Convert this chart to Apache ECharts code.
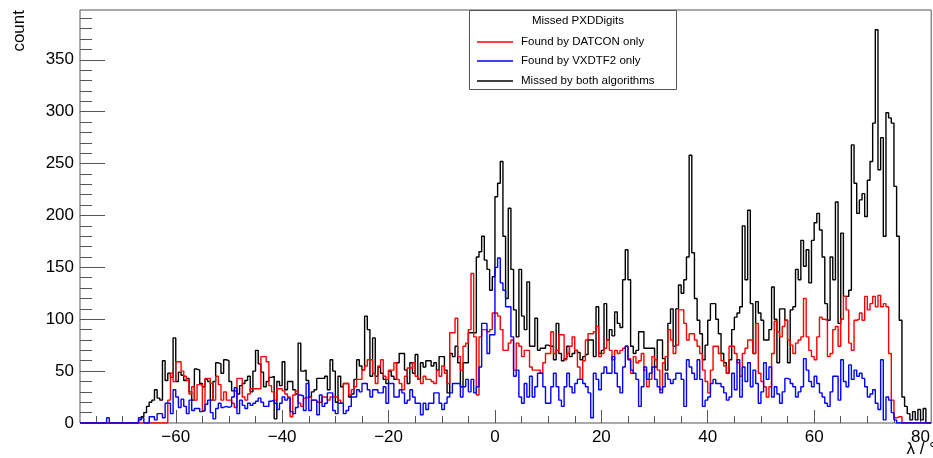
<!DOCTYPE html>
<html>
<head>
<meta charset="utf-8">
<script src="https://cdn.jsdelivr.net/npm/echarts@6/dist/echarts.min.js"></script>
<style>
html,body{margin:0;padding:0;background:#fff;}
#chart{width:933px;height:458px;}
</style>
</head>
<body>
<div id="chart"></div>
<script>
// ---- data: histogram of lambda (degrees), bins of 0.5 deg starting at -75 ----
const binStart = -75;
const binWidth = 0.5;
const xRange = [-78, 82];
const yRange = [0, 398];
const xMajorTicks = [-60, -40, -20, 0, 20, 40, 60, 80];
const xMinorTicks = [-75, -70, -65, -55, -50, -45, -35, -30, -25, -15, -10, -5, 5, 10, 15, 25, 30, 35, 45, 50, 55, 65, 70, 75];
const yMajorTicks = [0, 50, 100, 150, 200, 250, 300, 350];
const yMinorTicks = [10, 20, 30, 40, 60, 70, 80, 90, 110, 120, 130, 140, 160, 170, 180, 190, 210, 220, 230, 240, 260, 270, 280, 290, 310, 320, 330, 340, 360, 370, 380, 390];
const legendTitle = 'Missed PXDDigits';
const seriesNames = ['Found by DATCON only', 'Found by VXDTF2 only', 'Missed by both algorithms'];

const missedByBoth = [
  0,0,0,0,0,0,0,0,0,0,
  0,0,0,0,0,0,3,6,10,16,
  20,22,32,24,22,60,41,48,44,82,
  40,49,46,41,43,30,22,52,51,38,
  35,42,40,22,40,58,57,48,61,60,
  40,31,31,28,36,38,41,45,30,50,
  70,57,49,35,40,44,45,4,40,36,
  59,32,40,40,32,28,77,50,51,41,
  25,30,32,43,43,43,45,32,61,50,
  20,45,35,38,38,25,28,42,61,55,
  51,103,90,45,82,45,54,48,42,38,
  50,45,42,58,67,67,51,38,58,48,
  66,42,58,54,60,60,55,58,51,64,
  64,51,29,67,64,74,58,35,58,58,
  87,87,87,160,165,180,157,148,128,141,
  218,231,252,180,120,207,148,109,83,148,
  103,90,136,74,74,101,70,72,72,75,
  74,74,61,96,67,60,62,74,64,67,
  70,68,61,64,66,80,80,64,112,67,
  70,115,80,90,84,107,96,92,138,167,
  138,74,67,70,88,88,72,72,72,72,
  54,80,80,62,51,96,110,74,110,133,
  125,138,160,258,164,120,99,86,61,75,
  99,115,115,100,86,67,58,48,61,90,
  102,106,112,190,138,205,115,67,117,106,
  99,80,80,90,131,100,58,110,110,99,
  58,109,112,148,138,176,151,167,135,176,
  193,202,186,160,115,99,160,138,213,96,
  183,122,122,128,268,231,202,215,221,199,
  234,252,289,379,244,275,180,299,294,289,
  228,180,99,25,16,9,3,11,3,13,
  3,14
];

const foundByDatcon = [
  0,0,0,0,0,0,0,0,0,0,
  0,0,0,0,0,0,0,0,0,0,
  0,0,0,0,0,0,0,22,48,40,
  59,59,50,45,41,28,35,22,37,37,
  12,43,43,38,22,45,37,22,30,22,
  22,19,15,43,43,25,22,28,33,33,
  33,33,64,64,59,36,30,22,33,33,
  31,28,25,6,27,31,19,16,24,25,
  25,22,22,20,20,25,25,22,25,25,
  25,22,19,38,38,27,32,35,42,42,
  51,55,61,61,48,38,55,61,45,42,
  51,51,58,42,38,32,45,53,53,58,
  45,42,38,45,42,42,40,38,51,45,
  55,48,38,87,87,101,64,51,74,77,
  90,144,83,27,83,90,90,88,90,106,
  106,103,90,70,70,77,80,51,77,74,
  64,70,70,54,51,51,51,48,58,67,
  67,88,67,70,85,85,61,67,74,83,
  70,54,42,60,80,86,86,88,93,64,
  67,72,80,70,61,70,67,70,72,74,
  62,48,64,58,60,67,51,35,42,64,
  61,51,32,58,64,90,80,67,75,109,
  109,96,80,86,86,80,74,67,51,40,
  29,51,74,74,67,60,55,48,74,74,
  67,58,45,67,72,80,80,67,96,48,
  40,35,25,35,67,98,88,83,93,99,
  80,75,67,77,80,83,120,83,70,64,
  61,83,102,100,99,64,67,90,93,74,
  100,122,109,77,70,99,100,106,99,122,
  109,115,122,112,123,112,115,112,67,22,
  5,6,6,0,0,0,0,0,0,0,
  0,0
];

const foundByVxdtf2 = [
  0,0,0,0,5,0,0,0,0,0,
  0,0,0,0,0,0,5,5,0,0,
  6,6,3,9,9,5,19,19,9,32,
  25,15,23,16,9,22,12,14,14,11,
  12,18,22,10,4,14,19,15,16,15,
  16,25,34,9,22,17,14,19,17,19,
  21,24,20,16,16,21,22,19,13,19,
  25,22,24,11,9,15,27,26,12,38,
  12,22,22,8,27,16,19,29,29,12,
  9,19,19,9,12,16,25,25,32,30,
  38,38,32,25,32,32,29,29,35,19,
  38,38,25,25,32,29,19,22,32,25,
  19,19,8,19,13,19,19,29,29,19,
  13,19,25,29,38,38,38,25,35,42,
  30,42,29,35,54,96,96,67,85,85,
  150,159,135,128,112,112,83,45,51,25,
  19,38,25,45,25,35,48,48,35,19,
  19,35,48,35,22,16,35,48,35,29,
  38,42,42,38,35,29,5,48,42,32,
  48,54,48,48,64,48,35,29,54,74,
  61,51,48,42,16,35,54,42,48,54,
  42,35,29,35,48,42,38,42,48,48,
  42,16,61,54,48,42,61,42,16,22,
  25,38,42,38,38,35,29,22,25,48,
  32,61,25,54,40,58,35,51,38,19,
  30,58,42,54,25,35,28,19,30,43,
  42,38,35,25,30,35,62,51,40,35,
  45,38,29,25,19,16,30,45,45,22,
  61,40,35,56,42,51,45,48,43,35,
  25,28,32,19,13,61,3,25,22,10,
  3,0,0,0,0,0,0,0,0,0,
  0,0
];

// ---- build histogram outlines (left bin edge + value, stepped) ----
function histPoints(values) {
  const pts = [[xRange[0], 0]];
  values.forEach(function (v, i) { pts.push([binStart + i * binWidth, v]); });
  const end = binStart + values.length * binWidth;
  pts.push([end, values[values.length - 1]]);
  pts.push([end, 0]);
  pts.push([xRange[1], 0]);
  return pts;
}

const FONT = '"Liberation Sans", Arial, Helvetica, sans-serif';
const AX = '#555';
const colors = { datcon: '#ff0000', vxd: '#0000ff', both: '#000000' };

const chart = echarts.init(document.getElementById('chart'), null, { renderer: 'canvas' });

function lineSeries(name, values, color, z) {
  return {
    name: name, type: 'line', xAxisIndex: 0, yAxisIndex: 0,
    data: histPoints(values), step: 'end', symbol: 'none', showSymbol: false,
    lineStyle: { color: color, width: 1.4 }, itemStyle: { color: color },
    silent: true, animation: false, z: z
  };
}

const option = {
  animation: false,
  backgroundColor: '#ffffff',
  grid: { left: 80, top: 10, width: 856, height: 413, show: true, borderColor: AX, borderWidth: 1, backgroundColor: 'transparent' },
  xAxis: [
    {
      type: 'value', min: xRange[0], max: xRange[1], position: 'bottom',
      axisLine: { show: false, onZero: false }, splitLine: { show: false },
      axisTick: { show: true, inside: true, length: 13, customValues: xMajorTicks, lineStyle: { color: AX, width: 1 } },
      axisLabel: {
        show: true, customValues: xMajorTicks, margin: 6, fontSize: 17, fontFamily: FONT, color: '#000',
        formatter: function (v) { return String(v).replace('-', '\u2212'); }
      }
    },
    {
      type: 'value', min: xRange[0], max: xRange[1], position: 'bottom', offset: 0,
      axisLine: { show: false, onZero: false }, splitLine: { show: false },
      axisTick: { show: true, inside: true, length: 7, customValues: xMinorTicks, lineStyle: { color: AX, width: 1 } },
      axisLabel: { show: false }
    }
  ],
  yAxis: [
    {
      type: 'value', min: yRange[0], max: yRange[1], position: 'left',
      axisLine: { show: false, onZero: false }, splitLine: { show: false },
      axisTick: { show: true, inside: true, length: 25, customValues: yMajorTicks, lineStyle: { color: AX, width: 1 } },
      axisLabel: { show: true, customValues: yMajorTicks, margin: 6, fontSize: 17, fontFamily: FONT, color: '#000' }
    },
    {
      type: 'value', min: yRange[0], max: yRange[1], position: 'left', offset: 0,
      axisLine: { show: false, onZero: false }, splitLine: { show: false },
      axisTick: { show: true, inside: true, length: 12, customValues: yMinorTicks, lineStyle: { color: AX, width: 1 } },
      axisLabel: { show: false }
    }
  ],
  series: [
    lineSeries(seriesNames[2], missedByBoth, colors.both, 2),
    lineSeries(seriesNames[0], foundByDatcon, colors.datcon, 3),
    lineSeries(seriesNames[1], foundByVxdtf2, colors.vxd, 4)
  ],
  graphic: [
    { type: 'text', x: 19, y: 10, rotation: Math.PI / 2, z: 50,
      style: { text: 'count', font: '17px ' + FONT, fill: '#000', align: 'right', verticalAlign: 'middle', textAlign: 'right', textVerticalAlign: 'middle' } },
    { type: 'text', x: 936, y: 449, z: 50,
      style: { text: 'λ / °', font: '17px ' + FONT, fill: '#000', align: 'right', verticalAlign: 'middle', textAlign: 'right', textVerticalAlign: 'middle' } },
    { type: 'rect', z: 100, shape: { x: 469.5, y: 10.5, width: 207, height: 79 },
      style: { fill: '#fff', stroke: AX, lineWidth: 1 } },
    { type: 'text', x: 578, y: 21, z: 101,
      style: { text: legendTitle, font: '11.5px ' + FONT, fill: '#000', align: 'center', verticalAlign: 'middle', textAlign: 'center', textVerticalAlign: 'middle' } },
    { type: 'line', z: 101, shape: { x1: 477, y1: 42, x2: 513, y2: 42 }, style: { stroke: colors.datcon, lineWidth: 1.4 } },
    { type: 'text', x: 521, y: 42, z: 101,
      style: { text: seriesNames[0], font: '11.5px ' + FONT, fill: '#000', align: 'left', verticalAlign: 'middle', textAlign: 'left', textVerticalAlign: 'middle' } },
    { type: 'line', z: 101, shape: { x1: 477, y1: 61, x2: 513, y2: 61 }, style: { stroke: colors.vxd, lineWidth: 1.4 } },
    { type: 'text', x: 521, y: 61, z: 101,
      style: { text: seriesNames[1], font: '11.5px ' + FONT, fill: '#000', align: 'left', verticalAlign: 'middle', textAlign: 'left', textVerticalAlign: 'middle' } },
    { type: 'line', z: 101, shape: { x1: 477, y1: 81, x2: 513, y2: 81 }, style: { stroke: colors.both, lineWidth: 1.4 } },
    { type: 'text', x: 521, y: 81, z: 101,
      style: { text: seriesNames[2], font: '11.5px ' + FONT, fill: '#000', align: 'left', verticalAlign: 'middle', textAlign: 'left', textVerticalAlign: 'middle' } }
  ]
};

chart.setOption(option);
</script>
</body>
</html>
